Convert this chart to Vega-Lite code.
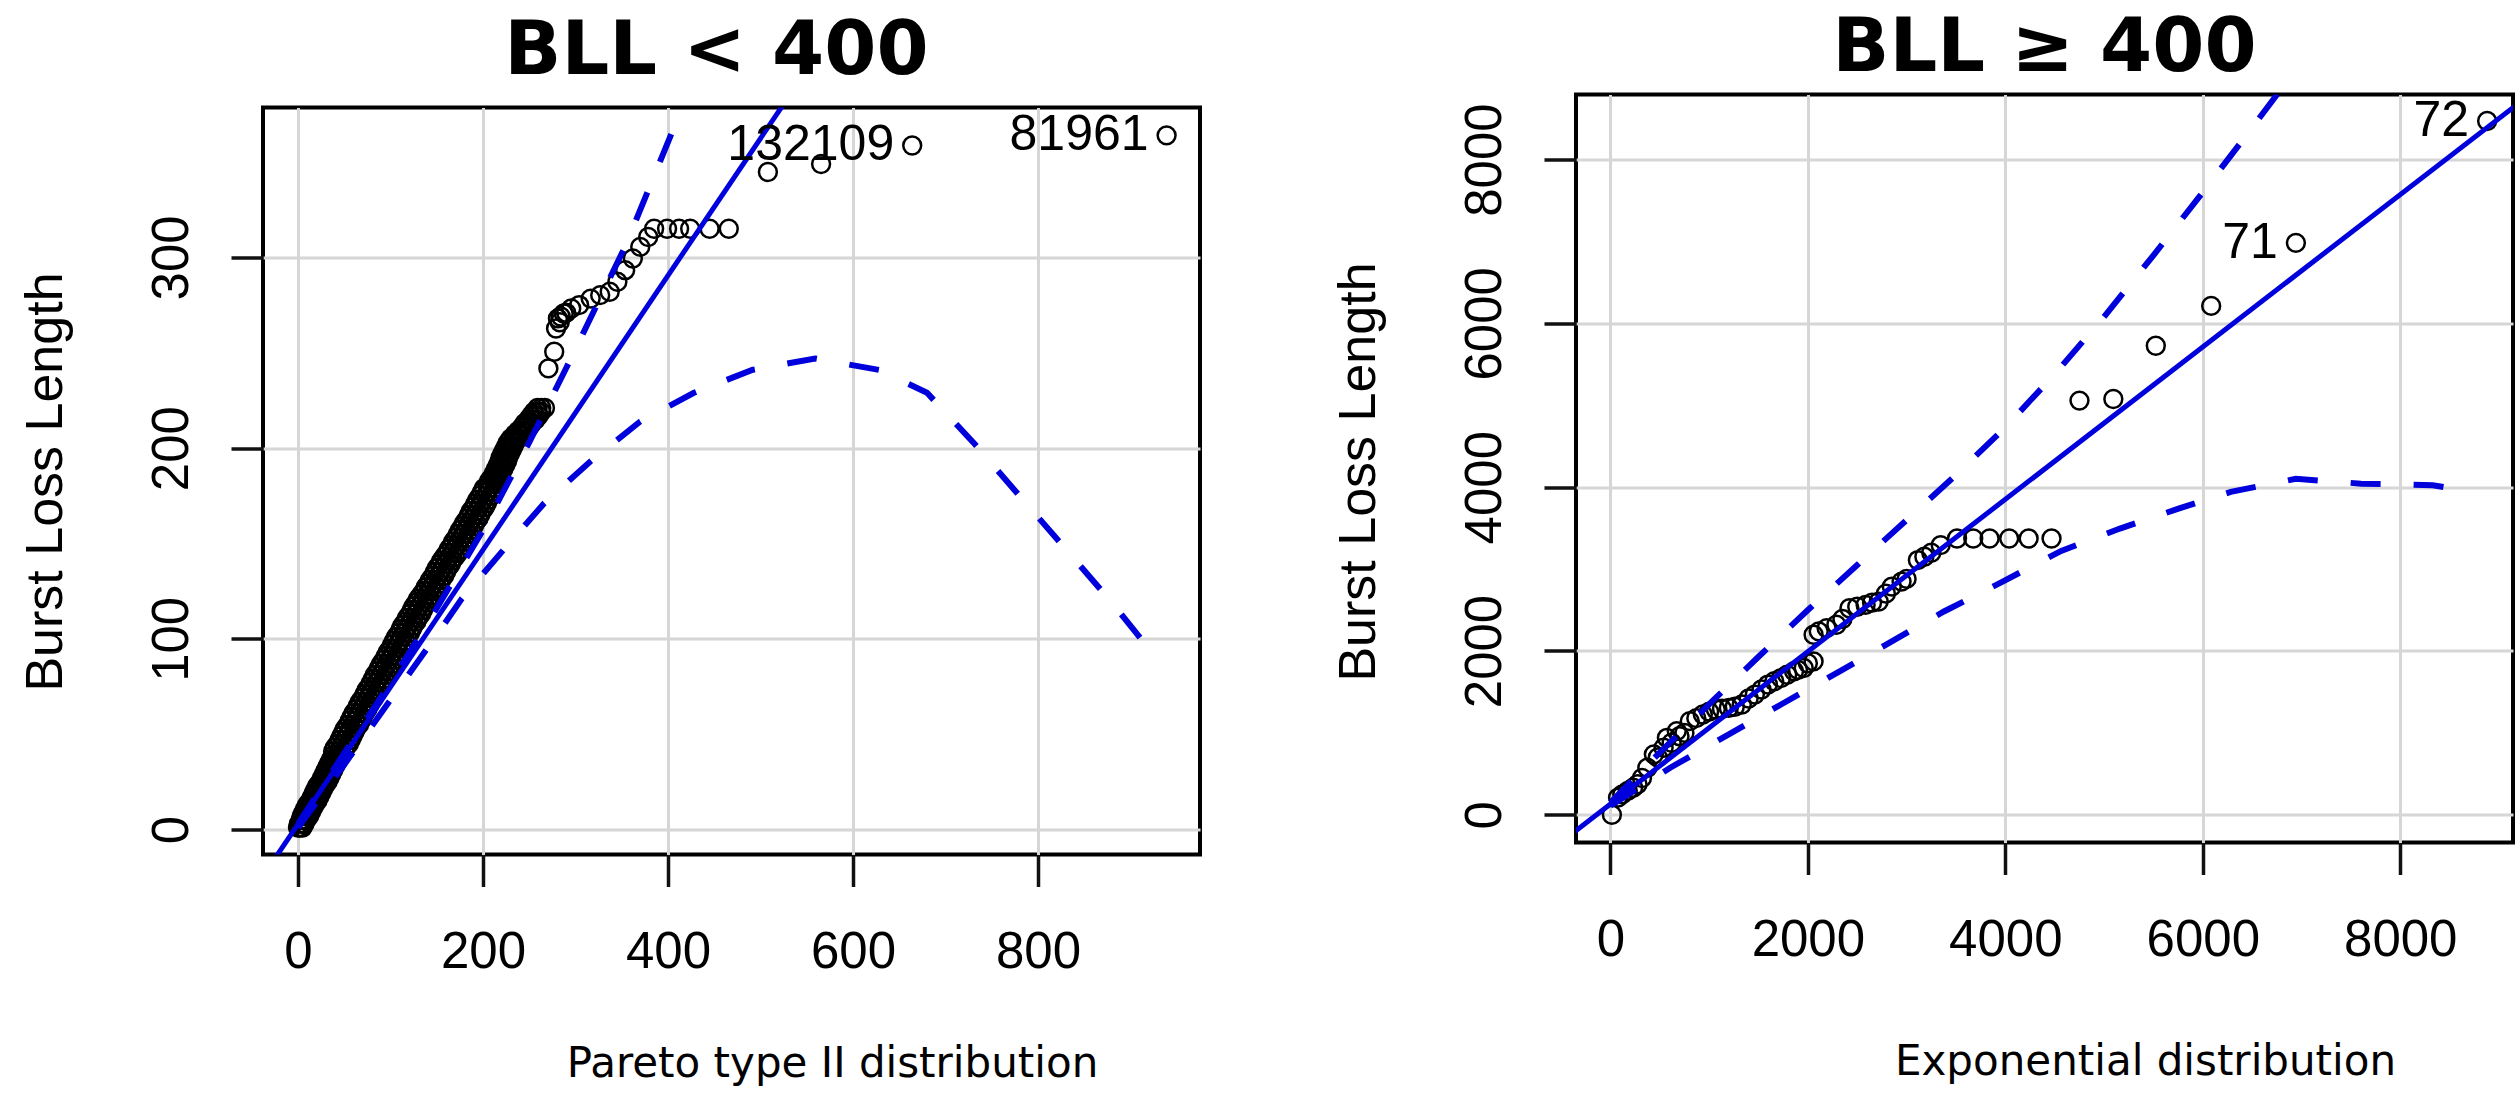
{
  "$schema": "https://vega.github.io/schema/vega-lite/v6.json",
  "background": "white",
  "padding": {"left": 17, "top": 8.5, "right": 5, "bottom": 0},
  "spacing": 128,
  "config": {
    "view": {"stroke": "black", "strokeWidth": 4},
    "axis": {
      "grid": true, "gridColor": "#D6D6D6", "gridWidth": 3,
      "domain": false, "ticks": true, "tickColor": "#111111", "tickWidth": 3.5, "tickSize": 32,
      "labelFont": "Liberation Sans", "labelFontSize": 51, "labelColor": "black",
      "labelFlush": false, "labelOverlap": false,
      "titleFont": "DejaVu Sans", "titleFontSize": 42, "titleFontWeight": "normal", "titleColor": "black"
    },
    "title": {"font": "DejaVu Sans", "fontSize": 75, "fontWeight": "bold", "color": "black", "baseline": "alphabetic"}
  },
  "datasets": {
    "lpts": [
      {"x":0,"y":1},{"x":2,"y":1},{"x":5,"y":1},{"x":1,"y":3},{"x":4,"y":3},{"x":7,"y":3},{"x":3,"y":5},{"x":6,"y":5},{"x":9,"y":5},
      {"x":4,"y":7},{"x":8,"y":7},{"x":12,"y":7},{"x":6,"y":9},{"x":10,"y":9},{"x":14,"y":9},{"x":8,"y":11},{"x":12,"y":11},{"x":16,"y":11},
      {"x":10,"y":13},{"x":14,"y":13},{"x":18,"y":13},{"x":13,"y":15},{"x":17,"y":15},{"x":21,"y":15},{"x":15,"y":17},{"x":19,"y":17},{"x":23,"y":17},
      {"x":17,"y":19},{"x":21,"y":19},{"x":25,"y":19},{"x":19,"y":21},{"x":23,"y":21},{"x":27,"y":21},{"x":21,"y":23},{"x":25,"y":23},{"x":29,"y":23},
      {"x":24,"y":25},{"x":28,"y":25},{"x":32,"y":25},{"x":26,"y":27},{"x":30,"y":27},{"x":34,"y":27},{"x":28,"y":29},{"x":32,"y":29},{"x":36,"y":29},
      {"x":30,"y":31},{"x":34,"y":31},{"x":38,"y":31},{"x":32,"y":33},{"x":36,"y":33},{"x":40,"y":33},{"x":34,"y":35},{"x":38,"y":35},{"x":42,"y":35},
      {"x":36,"y":37},{"x":40,"y":37},{"x":44,"y":37},{"x":38,"y":39},{"x":42,"y":39},{"x":46,"y":39},{"x":38,"y":41},{"x":44,"y":41},{"x":50,"y":41},
      {"x":40,"y":43},{"x":46,"y":43},{"x":52,"y":43},{"x":43,"y":45},{"x":49,"y":45},{"x":55,"y":45},{"x":45,"y":47},{"x":51,"y":47},{"x":57,"y":47},
      {"x":47,"y":49},{"x":53,"y":49},{"x":59,"y":49},{"x":49,"y":51},{"x":55,"y":51},{"x":61,"y":51},{"x":51,"y":53},{"x":57,"y":53},{"x":63,"y":53},
      {"x":54,"y":55},{"x":60,"y":55},{"x":66,"y":55},{"x":56,"y":57},{"x":62,"y":57},{"x":68,"y":57},{"x":58,"y":59},{"x":64,"y":59},{"x":70,"y":59},
      {"x":60,"y":61},{"x":66,"y":61},{"x":72,"y":61},{"x":63,"y":63},{"x":69,"y":63},{"x":75,"y":63},{"x":65,"y":65},{"x":71,"y":65},{"x":77,"y":65},
      {"x":67,"y":67},{"x":73,"y":67},{"x":79,"y":67},{"x":70,"y":69},{"x":76,"y":69},{"x":82,"y":69},{"x":72,"y":71},{"x":78,"y":71},{"x":84,"y":71},
      {"x":74,"y":73},{"x":80,"y":73},{"x":86,"y":73},{"x":77,"y":75},{"x":83,"y":75},{"x":89,"y":75},{"x":79,"y":77},{"x":85,"y":77},{"x":91,"y":77},
      {"x":81,"y":79},{"x":87,"y":79},{"x":93,"y":79},{"x":83,"y":81},{"x":89,"y":81},{"x":95,"y":81},{"x":86,"y":83},{"x":92,"y":83},{"x":98,"y":83},
      {"x":88,"y":85},{"x":94,"y":85},{"x":100,"y":85},{"x":90,"y":87},{"x":96,"y":87},{"x":102,"y":87},{"x":93,"y":89},{"x":99,"y":89},{"x":105,"y":89},
      {"x":95,"y":91},{"x":101,"y":91},{"x":107,"y":91},{"x":97,"y":93},{"x":103,"y":93},{"x":109,"y":93},{"x":100,"y":95},{"x":106,"y":95},{"x":112,"y":95},
      {"x":102,"y":97},{"x":108,"y":97},{"x":114,"y":97},{"x":104,"y":99},{"x":110,"y":99},{"x":116,"y":99},{"x":106,"y":101},{"x":112,"y":101},{"x":118,"y":101},
      {"x":109,"y":103},{"x":115,"y":103},{"x":121,"y":103},{"x":111,"y":105},{"x":117,"y":105},{"x":123,"y":105},{"x":113,"y":107},{"x":119,"y":107},{"x":125,"y":107},
      {"x":116,"y":109},{"x":122,"y":109},{"x":128,"y":109},{"x":118,"y":111},{"x":124,"y":111},{"x":130,"y":111},{"x":121,"y":113},{"x":127,"y":113},{"x":133,"y":113},
      {"x":123,"y":115},{"x":129,"y":115},{"x":135,"y":115},{"x":125,"y":117},{"x":131,"y":117},{"x":137,"y":117},{"x":128,"y":119},{"x":134,"y":119},{"x":140,"y":119},
      {"x":130,"y":121},{"x":136,"y":121},{"x":142,"y":121},{"x":133,"y":123},{"x":139,"y":123},{"x":145,"y":123},{"x":136,"y":125},{"x":142,"y":125},{"x":148,"y":125},
      {"x":138,"y":127},{"x":144,"y":127},{"x":150,"y":127},{"x":141,"y":129},{"x":147,"y":129},{"x":153,"y":129},{"x":143,"y":131},{"x":149,"y":131},{"x":155,"y":131},
      {"x":146,"y":133},{"x":152,"y":133},{"x":158,"y":133},{"x":148,"y":135},{"x":154,"y":135},{"x":160,"y":135},{"x":150,"y":137},{"x":156,"y":137},{"x":162,"y":137},
      {"x":153,"y":139},{"x":159,"y":139},{"x":165,"y":139},{"x":155,"y":141},{"x":161,"y":141},{"x":167,"y":141},{"x":158,"y":143},{"x":164,"y":143},{"x":170,"y":143},
      {"x":161,"y":145},{"x":167,"y":145},{"x":173,"y":145},{"x":163,"y":147},{"x":169,"y":147},{"x":175,"y":147},{"x":166,"y":149},{"x":172,"y":149},{"x":178,"y":149},
      {"x":168,"y":151},{"x":174,"y":151},{"x":180,"y":151},{"x":171,"y":153},{"x":177,"y":153},{"x":183,"y":153},{"x":173,"y":155},{"x":179,"y":155},{"x":185,"y":155},
      {"x":175,"y":157},{"x":181,"y":157},{"x":187,"y":157},{"x":178,"y":159},{"x":184,"y":159},{"x":190,"y":159},{"x":180,"y":161},{"x":186,"y":161},{"x":192,"y":161},
      {"x":183,"y":163},{"x":189,"y":163},{"x":195,"y":163},{"x":185,"y":165},{"x":191,"y":165},{"x":197,"y":165},{"x":187,"y":167},{"x":193,"y":167},{"x":199,"y":167},
      {"x":190,"y":169},{"x":196,"y":169},{"x":202,"y":169},{"x":192,"y":171},{"x":198,"y":171},{"x":204,"y":171},{"x":194,"y":173},{"x":200,"y":173},{"x":206,"y":173},
      {"x":197,"y":175},{"x":203,"y":175},{"x":209,"y":175},{"x":199,"y":177},{"x":205,"y":177},{"x":211,"y":177},{"x":201,"y":179},{"x":207,"y":179},{"x":213,"y":179},
      {"x":205,"y":181},{"x":209,"y":181},{"x":213,"y":181},{"x":207,"y":183},{"x":211,"y":183},{"x":215,"y":183},{"x":210,"y":185},{"x":214,"y":185},{"x":218,"y":185},
      {"x":212,"y":187},{"x":216,"y":187},{"x":220,"y":187},{"x":214,"y":189},{"x":218,"y":189},{"x":222,"y":189},{"x":216,"y":191},{"x":220,"y":191},{"x":224,"y":191},
      {"x":218,"y":193},{"x":222,"y":193},{"x":226,"y":193},{"x":219,"y":195},{"x":223,"y":195},{"x":227,"y":195},{"x":221,"y":197},{"x":225,"y":197},{"x":229,"y":197},
      {"x":223,"y":199},{"x":227,"y":199},{"x":231,"y":199},{"x":225,"y":201},{"x":229,"y":201},{"x":233,"y":201},{"x":227,"y":203},{"x":231,"y":203},{"x":235,"y":203},
      {"x":230,"y":205},{"x":234,"y":205},{"x":238,"y":205},{"x":234,"y":207},{"x":238,"y":207},{"x":242,"y":207},{"x":238,"y":209},{"x":242,"y":209},{"x":246,"y":209},
      {"x":242,"y":211},{"x":246,"y":211},{"x":250,"y":211},{"x":245,"y":213},{"x":249,"y":213},{"x":253,"y":213},{"x":249,"y":215},{"x":253,"y":215},{"x":257,"y":215},
      {"x":252,"y":217},{"x":256,"y":217},{"x":260,"y":217},{"x":255,"y":219},{"x":259,"y":219},{"x":263,"y":219},{"x":259,"y":221},{"x":263,"y":221},{"x":267,"y":221},
      {"x":270.7,"y":241.8},{"x":277,"y":250.5},{"x":279,"y":262.7},{"x":281,"y":268},{"x":283,"y":266},{"x":284,"y":269},{"x":287.3,"y":270.6},{"x":290,"y":271},
      {"x":295.4,"y":273.2},{"x":304,"y":275},{"x":316.4,"y":278.4},{"x":326.7,"y":280.2},{"x":337,"y":282},{"x":345.3,"y":287.2},{"x":353.7,"y":293.3},
      {"x":362,"y":299.4},{"x":370,"y":305.5},{"x":378.6,"y":310.7},{"x":385,"y":315},{"x":399,"y":315},{"x":412,"y":315},{"x":424,"y":315},
      {"x":445,"y":315},{"x":465.7,"y":315},{"x":508,"y":344.8},{"x":565.5,"y":349},{"x":664,"y":358.7},{"x":939,"y":364}
    ],
    "lfit": [{"x":-40,"y":-26},{"x":530,"y":384}],
    "lenv": [
      {"s":"u","x":0,"y":3},{"s":"u","x":50,"y":40},{"s":"u","x":100,"y":77},{"s":"u","x":150,"y":116},{"s":"u","x":200,"y":157},
      {"s":"u","x":250,"y":203},{"s":"u","x":290,"y":242},{"s":"u","x":330,"y":282},{"s":"u","x":354,"y":306},{"s":"u","x":381,"y":338},
      {"s":"u","x":408,"y":370},{"s":"u","x":416,"y":380},
      {"s":"l","x":0,"y":1},{"s":"l","x":50,"y":34},{"s":"l","x":100,"y":68},{"s":"l","x":150,"y":102},{"s":"l","x":177,"y":121},
      {"s":"l","x":221,"y":146},{"s":"l","x":266,"y":171},{"s":"l","x":316,"y":193},{"s":"l","x":370,"y":214},{"s":"l","x":428,"y":229},
      {"s":"l","x":491,"y":241},{"s":"l","x":559,"y":247},{"s":"l","x":628,"y":241},{"s":"l","x":680,"y":229},{"s":"l","x":730,"y":203},
      {"s":"l","x":780,"y":175},{"s":"l","x":830,"y":147},{"s":"l","x":880,"y":119},{"s":"l","x":921,"y":94}
    ],
    "llab": [{"x":939,"y":364,"t":"81961"},{"x":664,"y":358.7,"t":"132109"}],
    "rpts": [
      {"x":8880,"y":8470},{"x":6943,"y":6983},{"x":6085,"y":6213},{"x":5524,"y":5726},{"x":5094,"y":5077},{"x":4751,"y":5057},
      {"x":4468,"y":3374},{"x":4236,"y":3374},{"x":4039,"y":3374},{"x":3841,"y":3374},{"x":3675,"y":3374},{"x":3511,"y":3374},
      {"x":3345,"y":3293},{"x":3250,"y":3200},{"x":3180,"y":3151},{"x":3114,"y":3110},{"x":3000,"y":2880},{"x":2949,"y":2847},{"x":2850,"y":2786},
      {"x":2790,"y":2700},{"x":2718,"y":2603},{"x":2650,"y":2590},{"x":2585,"y":2563},{"x":2500,"y":2540},{"x":2421,"y":2522},{"x":2350,"y":2390},
      {"x":2289,"y":2320},{"x":2190,"y":2279},{"x":2110,"y":2240},{"x":2058,"y":2198},{"x":2058,"y":1873},{"x":2000,"y":1850},{"x":1958,"y":1792},
      {"x":1900,"y":1770},{"x":1860,"y":1752},{"x":1790,"y":1710},{"x":1728,"y":1670},{"x":1660,"y":1630},{"x":1595,"y":1590},{"x":1530,"y":1530},
      {"x":1463,"y":1468},{"x":1400,"y":1420},{"x":1331,"y":1347},{"x":1260,"y":1320},{"x":1199,"y":1305},{"x":1130,"y":1295},{"x":1068,"y":1286},
      {"x":1000,"y":1260},{"x":936,"y":1225},{"x":870,"y":1180},{"x":804,"y":1144},{"x":750,"y":1000},{"x":700,"y":960},{"x":672,"y":1022},
      {"x":620,"y":880},{"x":572,"y":940},{"x":539,"y":819},{"x":480,"y":700},{"x":440,"y":738},{"x":374,"y":575},{"x":320,"y":450},
      {"x":275,"y":373},{"x":230,"y":330},{"x":176,"y":292},{"x":120,"y":250},{"x":77,"y":210},{"x":15,"y":0}
    ],
    "rfit": [{"x":-360,"y":-203},{"x":9160,"y":8651}],
    "renv": [
      {"s":"u","x":0,"y":150},{"s":"u","x":500,"y":760},{"s":"u","x":1000,"y":1350},{"s":"u","x":1500,"y":1930},{"s":"u","x":2000,"y":2500},
      {"s":"u","x":2500,"y":3050},{"s":"u","x":3000,"y":3600},{"s":"u","x":3500,"y":4150},{"s":"u","x":4000,"y":4730},{"s":"u","x":4500,"y":5380},
      {"s":"u","x":5000,"y":6080},{"s":"u","x":5500,"y":6830},{"s":"u","x":6000,"y":7600},{"s":"u","x":6500,"y":8390},{"s":"u","x":6800,"y":8870},
      {"s":"l","x":0,"y":110},{"s":"l","x":77,"y":170},{"s":"l","x":606,"y":575},{"s":"l","x":1199,"y":982},{"s":"l","x":1728,"y":1347},
      {"s":"l","x":2322,"y":1752},{"s":"l","x":2850,"y":2117},{"s":"l","x":3378,"y":2482},{"s":"l","x":3973,"y":2847},{"s":"l","x":4566,"y":3222},
      {"s":"l","x":5161,"y":3495},{"s":"l","x":5754,"y":3738},{"s":"l","x":6283,"y":3942},{"s":"l","x":6943,"y":4103},{"s":"l","x":7603,"y":4043},
      {"s":"l","x":8330,"y":4023},{"s":"l","x":8500,"y":3990}
    ],
    "rlab": [{"x":8880,"y":8470,"t":"72"},{"x":6943,"y":6983,"t":"71"}]
  },
  "hconcat": [
    {
      "spacing": 0,
      "vconcat": [
        {
          "width": 937, "height": 10.5,
          "view": {"stroke": null},
          "title": {"text": "BLL < 400", "offset": 4.8, "dx": -15},
          "data": {"values": []},
          "mark": "point"
        },
        {
          "width": 937, "height": 747,
          "encoding": {
            "x": {"field": "x", "type": "quantitative",
                  "scale": {"domain": [-37.8, 975.1], "nice": false, "zero": false},
                  "axis": {"values": [0, 200, 400, 600, 800], "format": "d", "labelPadding": 41,
                           "title": "Pareto type II distribution", "titleX": 569, "titleY": 222, "titleBaseline": "alphabetic", "titleAlign": "center"}},
            "y": {"field": "y", "type": "quantitative",
                  "scale": {"domain": [-13.1, 378.6], "nice": false, "zero": false},
                  "axis": {"values": [0, 100, 200, 300], "format": "d", "labelAngle": 270, "labelAlign": "center", "labelBaseline": "middle", "labelPadding": 58.6,
                           "title": "Burst Loss Length", "titleFont": "Liberation Sans", "titleFontSize": 52,
                           "titleX": -201.7, "titleY": 374, "titleBaseline": "alphabetic", "titleAngle": 270, "titleAlign": "center"}}
          },
          "layer": [
            {"data": {"name": "lpts"}, "mark": {"type": "point", "shape": "circle", "filled": false, "color": "black", "strokeWidth": 2.5, "size": 320, "opacity": 1}},
            {"data": {"name": "lfit"}, "mark": {"type": "line", "color": "#0000DD", "strokeWidth": 5, "clip": true}},
            {"data": {"name": "lenv"}, "mark": {"type": "line", "color": "#0000DD", "strokeWidth": 6, "strokeDash": [30, 33], "clip": true},
             "encoding": {"detail": {"field": "s"}}},
            {"data": {"name": "llab"}, "mark": {"type": "text", "align": "right", "baseline": "middle", "dx": -18, "font": "Liberation Sans", "fontSize": 50, "color": "black"},
             "encoding": {"text": {"field": "t"}}}
          ]
        }
      ]
    },
    {
      "width": 937, "height": 748,
      "title": {"text": "BLL ≥ 400", "offset": 7.8},
      "encoding": {
        "x": {"field": "x", "type": "quantitative",
              "scale": {"domain": [-348.5, 9142], "nice": false, "zero": false},
              "axis": {"values": [0, 2000, 4000, 6000, 8000], "format": "d", "labelPadding": 41,
                       "title": "Exponential distribution", "titleX": 569, "titleY": 232, "titleBaseline": "alphabetic", "titleAlign": "center"}},
        "y": {"field": "y", "type": "quantitative",
              "scale": {"domain": [-338, 8794], "nice": false, "zero": false},
              "axis": {"values": [0, 2000, 4000, 6000, 8000], "format": "d", "labelAngle": 270, "labelAlign": "center", "labelBaseline": "middle", "labelPadding": 58.8,
                       "title": "Burst Loss Length", "titleFont": "Liberation Sans", "titleFontSize": 52,
                       "titleX": -201.6, "titleY": 377, "titleBaseline": "alphabetic", "titleAngle": 270, "titleAlign": "center"}}
      },
      "layer": [
        {"data": {"name": "rpts"}, "mark": {"type": "point", "shape": "circle", "filled": false, "color": "black", "strokeWidth": 2.5, "size": 320, "opacity": 1}},
        {"data": {"name": "rfit"}, "mark": {"type": "line", "color": "#0000DD", "strokeWidth": 5, "clip": true}},
        {"data": {"name": "renv"}, "mark": {"type": "line", "color": "#0000DD", "strokeWidth": 6, "strokeDash": [30, 33], "clip": true},
         "encoding": {"detail": {"field": "s"}}},
        {"data": {"name": "rlab"}, "mark": {"type": "text", "align": "right", "baseline": "middle", "dx": -18, "font": "Liberation Sans", "fontSize": 50, "color": "black"},
         "encoding": {"text": {"field": "t"}}}
      ]
    }
  ]
}
